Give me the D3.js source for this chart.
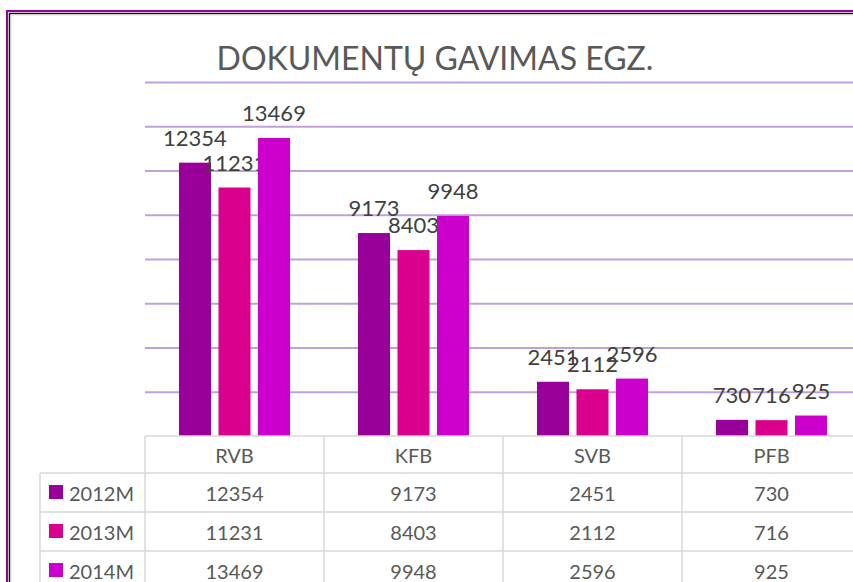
<!DOCTYPE html>
<html>
<head>
<meta charset="utf-8">
<script src="https://cdn.jsdelivr.net/npm/d3@7"></script>
<style>
  body { margin: 0; background: #fff; }
  svg { display: block; font-family: Lato, "Open Sans", sans-serif; }
</style>
</head>
<body>
<svg id="chart" width="853" height="582"></svg>
<script>
const categories = ["RVB", "KFB", "SVB", "PFB"];
const seriesNames = ["2012M", "2013M", "2014M"];
const values2012 = [12354, 9173, 2451, 730];
const values2013 = [11231, 8403, 2112, 716];
const values2014 = [13469, 9948, 2596, 925];
const gridTicks = [2000, 4000, 6000, 8000, 10000, 12000, 14000, 16000];

const seriesValues = [values2012, values2013, values2014];
const colors = ["#990099", "#d9008d", "#cc00cc"];

const svg = d3.select("#chart");

// frame
svg.append("rect").attr("x", 7).attr("y", 11).attr("width", 900).attr("height", 700)
  .attr("fill", "none").attr("stroke", "#990099").attr("stroke-width", 2);
svg.append("rect").attr("x", 9.5).attr("y", 13.5).attr("width", 900).attr("height", 700)
  .attr("fill", "none").attr("stroke", "#111").attr("stroke-width", 1.5);
svg.append("rect").attr("x", 11).attr("y", 15).attr("width", 900).attr("height", 700)
  .attr("fill", "none").attr("stroke", "#ddd").attr("stroke-width", 1);

const plotLeft = 145, plotRight = 861, plotTop = 82, plotBase = 436;

const x = d3.scaleBand().domain(categories).range([plotLeft, plotRight]);
const xs = d3.scaleBand().domain(seriesNames).range([0, x.bandwidth()])
  .paddingInner(0.19).paddingOuter(0.86);
const y = d3.scaleLinear().domain([0, 16000]).range([plotBase, plotTop]);

// title
svg.append("text").attr("x", 435).attr("y", 70).attr("text-anchor", "middle")
  .attr("font-size", 32).attr("fill", "#595959").text("DOKUMENTŲ GAVIMAS EGZ.");

// gridlines
const grid = svg.append("g").attr("transform", "translate(" + plotLeft + ",0)")
  .call(d3.axisLeft(y).tickValues(gridTicks).tickSize(-(plotRight - plotLeft)).tickFormat(""));
grid.select(".domain").remove();
grid.selectAll(".tick line").attr("stroke", "#c0a0dc").attr("stroke-width", 2);

// bars
const groups = svg.append("g").selectAll("g")
  .data(seriesNames)
  .join("g")
  .attr("fill", (d, i) => colors[i]);

groups.selectAll("rect")
  .data((s, i) => categories.map((c, j) => ({cat: c, ser: s, value: seriesValues[i][j]})))
  .join("rect")
  .attr("x", d => x(d.cat) + xs(d.ser))
  .attr("y", d => y(d.value))
  .attr("width", xs.bandwidth())
  .attr("height", d => plotBase - y(d.value));

// data labels
groups.selectAll("text")
  .data((s, i) => categories.map((c, j) => ({cat: c, ser: s, value: seriesValues[i][j]})))
  .join("text")
  .attr("x", d => x(d.cat) + xs(d.ser) + xs.bandwidth() / 2)
  .attr("y", d => y(d.value) - 17)
  .attr("text-anchor", "middle")
  .attr("font-size", 22)
  .attr("fill", "#404040")
  .text(d => d.value);

// data table
const headerH = 37, rowH = 39, legendLeft = 40;
const gridColor = "#d9d9d9";
const table = svg.append("g");

table.append("line").attr("x1", plotLeft).attr("x2", plotRight).attr("y1", plotBase).attr("y2", plotBase)
  .attr("stroke", gridColor).attr("stroke-width", 1.5);
for (let r = 0; r <= seriesNames.length; r++) {
  const yy = plotBase + headerH + r * rowH;
  table.append("line").attr("x1", legendLeft).attr("x2", plotRight).attr("y1", yy).attr("y2", yy)
    .attr("stroke", gridColor).attr("stroke-width", 1.5);
}
categories.forEach(c => {
  table.append("line").attr("x1", x(c)).attr("x2", x(c)).attr("y1", plotBase).attr("y2", 640)
    .attr("stroke", gridColor).attr("stroke-width", 1.5);
});
table.append("line").attr("x1", plotRight).attr("x2", plotRight).attr("y1", plotBase).attr("y2", 640)
  .attr("stroke", gridColor).attr("stroke-width", 1.5);
table.append("line").attr("x1", legendLeft).attr("x2", legendLeft).attr("y1", plotBase + headerH).attr("y2", 640)
  .attr("stroke", gridColor).attr("stroke-width", 1.5);

table.selectAll(".hdr").data(categories).join("text")
  .attr("x", d => x(d) + x.bandwidth() / 2)
  .attr("y", plotBase + 27)
  .attr("text-anchor", "middle").attr("font-size", 20).attr("fill", "#595959")
  .text(d => d);

seriesNames.forEach((s, i) => {
  const rowTop = plotBase + headerH + i * rowH;
  table.append("rect").attr("x", 49).attr("y", rowTop + 12).attr("width", 14).attr("height", 14)
    .attr("fill", colors[i]);
  table.append("text").attr("x", 69).attr("y", rowTop + 28)
    .attr("font-size", 20).attr("fill", "#595959").text(s);
  table.selectAll(".v" + i).data(seriesValues[i]).join("text")
    .attr("x", (d, j) => x(categories[j]) + x.bandwidth() / 2)
    .attr("y", rowTop + 28)
    .attr("text-anchor", "middle").attr("font-size", 20).attr("fill", "#595959")
    .text(d => d);
});
</script>
</body>
</html>
